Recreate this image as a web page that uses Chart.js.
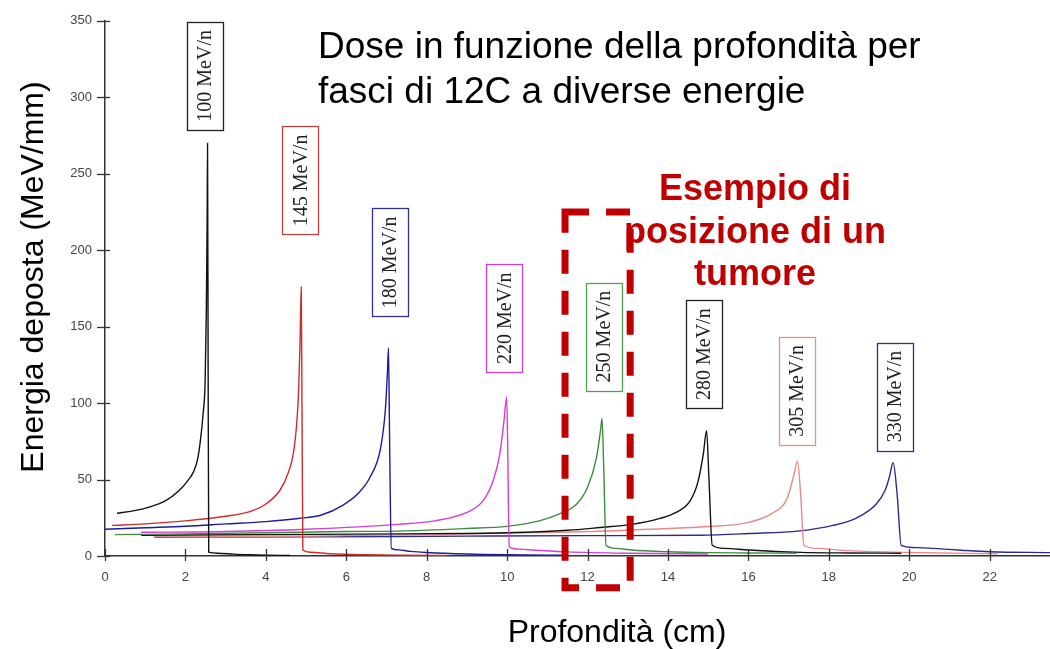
<!DOCTYPE html>
<html>
<head>
<meta charset="utf-8">
<script src="https://cdn.jsdelivr.net/npm/chart.js@4.4.0/dist/chart.umd.min.js"></script>
<style>
  html, body { margin: 0; padding: 0; background: #fff; }
  canvas { display: block; }
</style>
</head>
<body>
<canvas id="dose" width="1050" height="649"></canvas>
<script>
// energies of the 12C beams (MeV/n)
var energies = ['100 MeV/n', '145 MeV/n', '180 MeV/n', '220 MeV/n', '250 MeV/n', '280 MeV/n', '305 MeV/n', '330 MeV/n'];

// depth (cm) / deposited energy (MeV/mm)
var depth100 = [0.3, 0.7, 1.1, 1.5, 1.85, 2.05, 2.2, 2.3, 2.37, 2.44, 2.49, 2.52, 2.54, 2.55, 2.565, 2.58, 2.8, 3.2, 3.6, 4.0, 4.6];
var dose100  = [28, 29.5, 32, 36, 43, 49, 55, 63, 75, 93, 114, 160, 220, 270, 120, 2.5, 1.8, 1.2, 0.8, 0.5, 0.3];

var depth145 = [0.17, 1.0, 2.0, 3.0, 3.6, 4.0, 4.35, 4.55, 4.7, 4.8, 4.85, 4.88, 4.9, 4.92, 5.1, 5.6, 6.5, 7.5, 8.5];
var dose145  = [20, 21, 23, 26, 29, 34, 43, 54, 70, 100, 140, 176, 90, 4, 2.5, 1.5, 0.8, 0.5, 0.3];

var depth180 = [0, 1, 2, 3, 4, 4.8, 5.4, 5.9, 6.3, 6.6, 6.85, 6.97, 7.02, 7.05, 7.08, 7.12, 7.3, 7.6, 8.0, 9.0, 10.0, 11.5];
var dose180  = [17.5, 18.5, 19.5, 21, 22.5, 24.5, 27, 33, 41, 52, 70, 95, 118, 136, 70, 5, 4, 3, 2.3, 1.3, 0.8, 0.5];

var depth220 = [0.9, 3, 5, 7.3, 8.2, 9.0, 9.4, 9.65, 9.82, 9.92, 9.99, 10.02, 10.05, 10.3, 10.7, 11.5, 13, 15];
var dose220  = [15.5, 16, 17.5, 20.7, 23, 28.5, 36, 49, 67, 88, 104, 60, 6, 4.5, 3.8, 2.7, 1.8, 1.3];

var depth250 = [0.25, 2, 4, 6, 7.33, 9, 10, 10.8, 11.3, 11.73, 12.0, 12.22, 12.32, 12.36, 12.4, 12.46, 12.7, 13.1, 14, 15, 16, 17.2];
var dose250  = [14, 14.5, 15.2, 16, 16.3, 18, 19.4, 23, 27.6, 34, 45, 64, 81.6, 90, 60, 7, 5, 3.9, 2.8, 2.2, 2, 1.8];

var depth280 = [0.9, 4, 7.33, 10, 11.5, 12.3, 13.1, 13.8, 14.2, 14.55, 14.75, 14.88, 14.96, 15.02, 15.1, 15.4, 16, 17.3, 18.5, 19.8];
var dose280  = [13.5, 14, 14.5, 15.2, 16.8, 18.6, 20.7, 24.6, 28.5, 36, 49, 67, 82, 50, 7, 5, 3.9, 2.4, 2, 1.8];

var depth305 = [1.2, 5, 8, 10, 12, 13.5, 14.8, 16.0, 16.6, 16.97, 17.14, 17.22, 17.3, 17.38, 17.7, 18.5, 20, 22.2];
var dose305  = [12.5, 13, 14, 15, 16, 17.5, 19, 22, 28, 38, 54, 62, 40, 7, 5, 3.5, 2.3, 1.5];

var depth330 = [1.24, 5, 9, 12, 14.8, 16, 17.27, 18.1, 18.7, 19.18, 19.4, 19.5, 19.6, 19.7, 19.8, 20.2, 20.6, 21.3, 22, 23.5];
var dose330  = [12.3, 12.5, 13, 13.3, 13.6, 14.7, 16.4, 20, 25, 34, 43, 51, 61, 40, 7, 5.5, 5, 3.8, 2.8, 2.2];

var xTicks = [0, 2, 4, 6, 8, 10, 12, 14, 16, 18, 20, 22];
var yTicks = [0, 50, 100, 150, 200, 250, 300, 350];

var colors = ['#111111', '#d42a2a', '#1c1c9c', '#d63cd6', '#3d8c3d', '#111111', '#e88a8a', '#2a2a90'];
var boxColors = ['#222222', '#c04040', '#303090', '#d040d0', '#50a050', '#222222', '#e09090', '#303080'];
// label box centres in axis units
var labelAt = [[2.475, 314], [4.86, 245.6], [7.09, 192], [9.93, 155.5], [12.40, 143.5], [14.90, 132], [17.21, 108], [19.65, 104.3]];

var depths = [depth100, depth145, depth180, depth220, depth250, depth280, depth305, depth330];
var doses = [dose100, dose145, dose180, dose220, dose250, dose280, dose305, dose330];

function pts(xs, ys) {
    return xs.map(function (x, i) { return { x: x, y: ys[i] }; });
}

var datasets = energies.map(function (e, i) {
    return {
        label: e,
        data: pts(depths[i], doses[i]),
        borderColor: colors[i],
        borderWidth: 1.4,
        pointRadius: 0,
        fill: false,
        cubicInterpolationMode: 'monotone'
    };
});

var decor = {
    id: 'decor',
    beforeDraw: function (chart) {
        var c = chart.ctx;
        c.save();
        c.fillStyle = '#fff';
        c.fillRect(0, 0, chart.width, chart.height);
        c.restore();
    },
    afterDraw: function (chart) {
        var c = chart.ctx;
        var xs = chart.scales.x, ys = chart.scales.y;
        var area = chart.chartArea;
        c.save();

        // tick marks across the axes
        c.strokeStyle = '#333';
        c.lineWidth = 1.3;
        xTicks.forEach(function (v) {
            var px = Math.round(xs.getPixelForValue(v)) + 0.5;
            c.beginPath();
            c.moveTo(px, area.bottom - 7);
            c.lineTo(px, area.bottom + 5);
            c.stroke();
        });
        yTicks.forEach(function (v) {
            var py = Math.round(ys.getPixelForValue(v)) + 0.5;
            c.beginPath();
            c.moveTo(area.left - 8, py);
            c.lineTo(area.left + 5, py);
            c.stroke();
        });

        // energy labels in boxes
        energies.forEach(function (e, i) {
            var cx = xs.getPixelForValue(labelAt[i][0]);
            var cy = ys.getPixelForValue(labelAt[i][1]);
            c.strokeStyle = boxColors[i];
            c.lineWidth = 1.3;
            c.strokeRect(Math.round(cx - 18) + 0.5, Math.round(cy - 54) + 0.5, 36, 108);
            c.save();
            c.translate(cx, cy);
            c.rotate(-Math.PI / 2);
            c.fillStyle = '#222';
            c.font = '20px "Liberation Serif", "Times New Roman", serif';
            c.textAlign = 'center';
            c.textBaseline = 'middle';
            c.fillText(e, 0, 1);
            c.restore();
        });

        // tumour window
        var l = xs.getPixelForValue(11.44), r = xs.getPixelForValue(13.06);
        var t = ys.getPixelForValue(225), b = ys.getPixelForValue(-20.7);
        c.strokeStyle = '#c00000';
        c.lineWidth = 7;
        c.setLineDash([24, 17]);
        c.strokeRect(l, t, r - l, b - t);
        c.setLineDash([]);

        // title
        c.fillStyle = '#000';
        c.font = '37px "Liberation Sans", Arial, sans-serif';
        c.textAlign = 'left';
        c.textBaseline = 'alphabetic';
        c.fillText('Dose in funzione della profondità per', 318, 58);
        c.fillText('fasci di 12C a diverse energie', 318, 103);

        // tumour note
        c.fillStyle = '#c00000';
        c.font = 'bold 36px "Liberation Sans", Arial, sans-serif';
        c.textAlign = 'center';
        c.fillText('Esempio di', 755, 200);
        c.fillText('posizione di un', 755, 243);
        c.fillText('tumore', 755, 285);

        // axis titles
        c.fillStyle = '#000';
        c.font = '32px "Liberation Sans", Arial, sans-serif';
        c.fillText('Profondità (cm)', 617, 642);
        c.save();
        c.translate(43, 277);
        c.rotate(-Math.PI / 2);
        c.fillText('Energia deposta (MeV/mm)', 0, 0);
        c.restore();

        c.restore();
    }
};

var ctx = document.getElementById('dose').getContext('2d');
var chart = new Chart(ctx, {
    type: 'line',
    data: { datasets: datasets },
    options: {
        responsive: false,
        animation: false,
        devicePixelRatio: 1,
        layout: { padding: { top: 15, right: 0, left: 0, bottom: 0 } },
        plugins: {
            legend: { display: false },
            tooltip: { enabled: false }
        },
        scales: {
            x: {
                type: 'linear',
                min: 0,
                max: 23.5,
                afterBuildTicks: function (s) { s.ticks = xTicks.map(function (v) { return { value: v }; }); },
                afterFit: function (s) { s.height = 93; },
                grid: { display: true, drawOnChartArea: false, drawTicks: false },
                border: { display: true, color: '#333', width: 1.5 },
                ticks: {
                    padding: 14,
                    maxRotation: 0,
                    color: '#444',
                    font: { family: '"Liberation Sans", Arial, sans-serif', size: 13 }
                }
            },
            y: {
                min: 0,
                max: 350,
                afterBuildTicks: function (s) { s.ticks = yTicks.map(function (v) { return { value: v }; }); },
                afterFit: function (s) { s.width = 105; },
                grid: { display: true, drawOnChartArea: false, drawTicks: false },
                border: { display: true, color: '#333', width: 1.5 },
                ticks: {
                    padding: 13,
                    color: '#444',
                    font: { family: '"Liberation Sans", Arial, sans-serif', size: 13 }
                }
            }
        }
    },
    plugins: [decor]
});
</script>
</body>
</html>
